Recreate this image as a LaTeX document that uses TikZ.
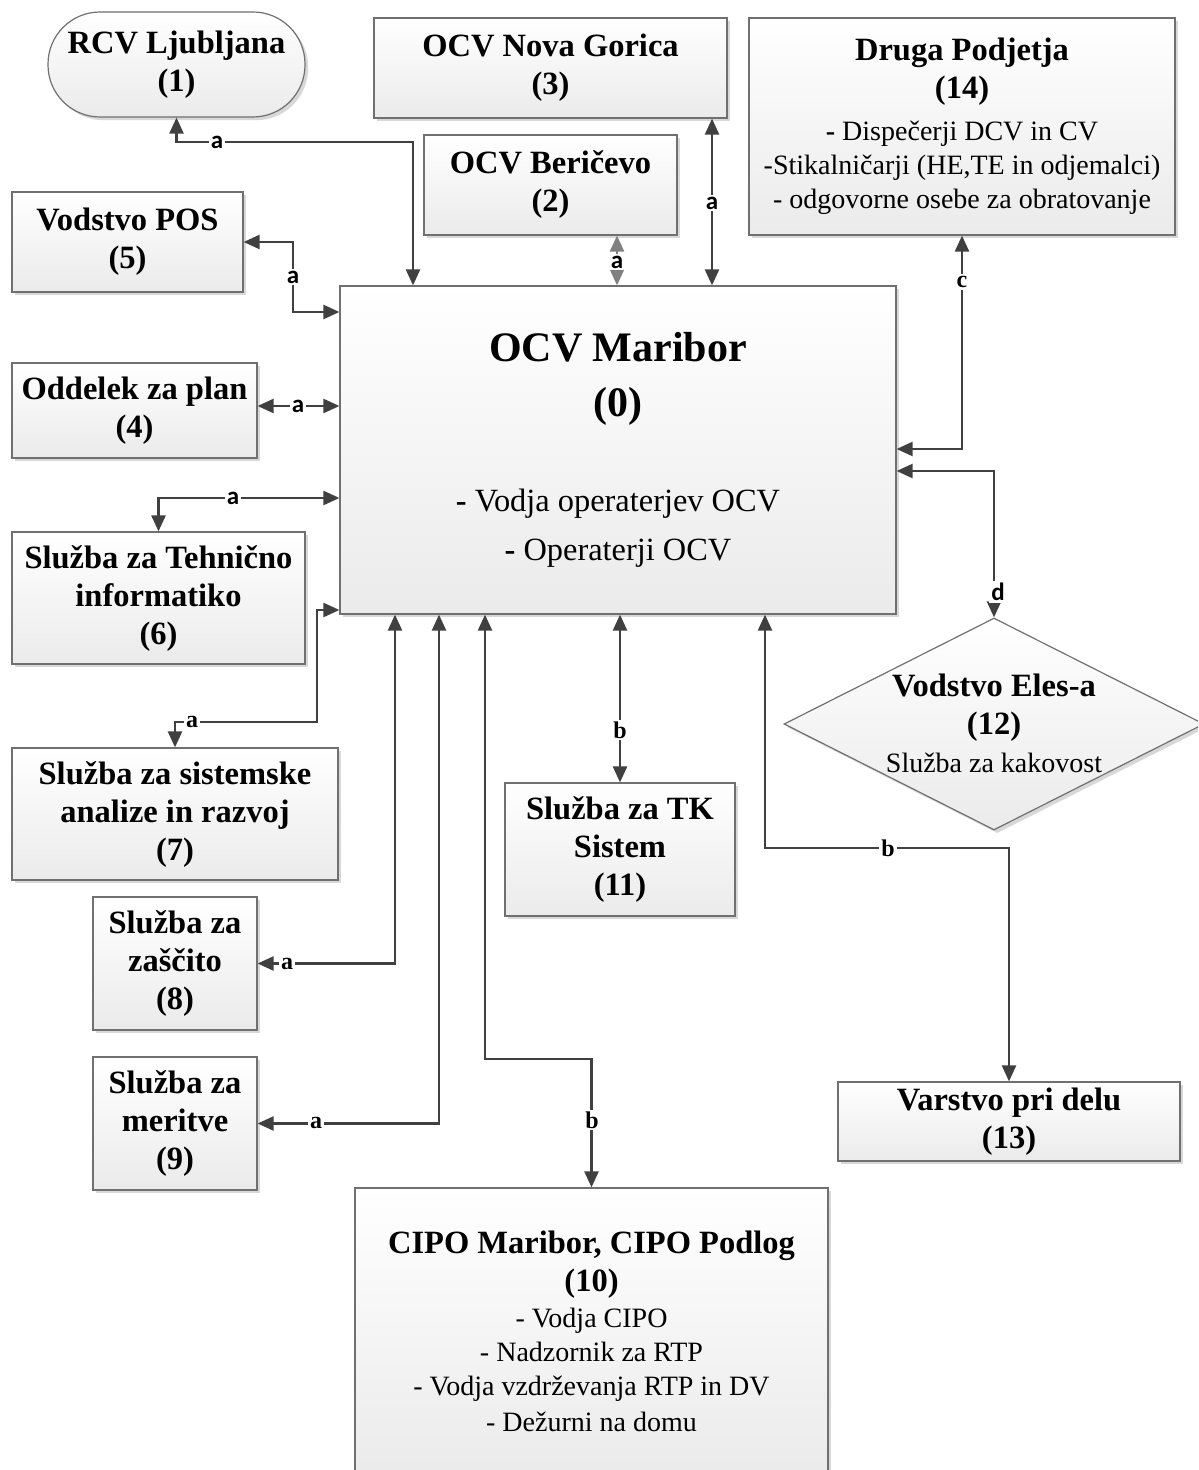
\documentclass[tikz,border=0pt]{standalone}
\usepackage{fontspec}
\setmainfont{Liberation Serif}
\newfontfamily\lblsans{Carlito}
\usetikzlibrary{arrows.meta,shadows,shapes.geometric}
\definecolor{linec}{HTML}{404040}
\definecolor{bordc}{HTML}{707070}
\newcommand{\ttlfont}{\fontsize{16.25}{17}\selectfont\bfseries}

\begin{document}
\begin{tikzpicture}[x=0.5pt,y=-0.5pt,>={Triangle[length=8pt,width=7pt]}]
% Stili
\tikzset{box/.style={rectangle,draw=bordc,line width=0.6pt,top color=white,bottom color=gray!16,
    drop shadow={shadow xshift=1.6pt,shadow yshift=-1.6pt,fill=gray!60,opacity=0.5},
    align=center,inner sep=0pt,font=\fontsize{14}{17}\selectfont},
  titlebox/.style={box,font=\fontsize{16.25}{19}\selectfont\bfseries},
  con/.style={draw=linec,line width=1.2pt,<->},
  lbl/.style={fill=white,inner sep=1pt,font=\lblsans\bfseries\fontsize{12.5}{12}\selectfont},
  lbls/.style={fill=white,inner sep=1pt,font=\bfseries\fontsize{12}{12}\selectfont}}

\useasboundingbox (0,0) rectangle (1198,1470);
\clip (0,0) rectangle (1198,1470);

% Vozlisca
  \node[titlebox,rounded corners=26pt,minimum width=128.5pt,minimum height=52.5pt] (n1) at (176.5,64.5) {RCV Ljubljana\\(1)};
  \node[titlebox,minimum width=176.5pt,minimum height=50pt] (n3) at (550.5,68) {OCV Nova Gorica\\(3)};
  \node[titlebox,minimum width=126.5pt,minimum height=50pt] (n2) at (550.5,185) {OCV Beričevo\\(2)};
  \node[box,minimum width=213pt,minimum height=108.5pt] (n14) at (962,126.5) {{\ttlfont Druga Podjetja}\\[2pt]{\ttlfont (14)}\\[4pt]\textbf{-} Dispečerji DCV in CV\\-Stikalničarji (HE,TE in odjemalci)\\- odgovorne osebe za obratovanje};
  \node[titlebox,minimum width=115.5pt,minimum height=50pt] (n5) at (127.5,242) {Vodstvo POS\\(5)};
  \node[titlebox,minimum width=122.5pt,minimum height=47.5pt] (n4) at (134.5,410.5) {Oddelek za plan\\(4)};
  \node[titlebox,minimum width=146.5pt,minimum height=66pt] (n6) at (158.5,598) {Služba za Tehnično\\informatiko\\(6)};
  \node[titlebox,minimum width=163pt,minimum height=66pt] (n7) at (175,814) {Služba za sistemske\\analize in razvoj\\(7)};
  \node[titlebox,minimum width=82pt,minimum height=66.5pt] (n8) at (175,963.5) {Služba za\\zaščito\\(8)};
  \node[titlebox,minimum width=82pt,minimum height=66.5pt] (n9) at (175,1123.5) {Služba za\\meritve\\(9)};
  \node[box,minimum width=278pt,minimum height=164pt,font=\fontsize{16.2}{24.5}\selectfont] (n0) at (618,450) {{\fontsize{21}{24.5}\selectfont\bfseries OCV Maribor}\\[3pt]{\fontsize{21}{24.5}\selectfont\bfseries (0)}\\[23pt]\textbf{-} Vodja operaterjev OCV\\\textbf{-} Operaterji OCV};
  \node[titlebox,minimum width=115pt,minimum height=66.5pt] (n11) at (620,849.5) {Služba za TK\\Sistem\\(11)};
  \node[box,diamond,minimum width=210pt,minimum height=106pt] (n12) at (994,724) {};
  \node[align=center,font=\fontsize{16.25}{19}\selectfont\bfseries] (t12) at (994,723) {Vodstvo Eles-a\\(12)\\{\mdseries\fontsize{14}{19}\selectfont Služba za kakovost}};
  \node[titlebox,minimum width=171pt,minimum height=39.5pt] (n13) at (1009,1121.5) {Varstvo pri delu\\(13)};
  \node[box,minimum width=236.5pt,minimum height=143pt] (n10) at (591.5,1331) {{\ttlfont CIPO Maribor, CIPO Podlog}\\[2pt]{\ttlfont (10)}\\[1pt]- Vodja CIPO\\- Nadzornik za RTP\\- Vodja vzdrževanja RTP in DV\\[1pt]- Dežurni na domu};

% Povezave
\draw[con] (n1.south) |- (413,142) -- (n0.north -| 413,0);
\draw[con] (n3.south -| 712,0) -- (n0.north -| 712,0);
\draw[con,densely dashed,draw=gray] (n2.south -| 617,0) -- (n0.north -| 617,0);
\draw[con] (n5.east) -| (293,312) -- (n0.west |- 0,312);
\draw[con] (n4.east |- 0,406) -- (n0.west |- 0,406);
\draw[con] (n6.north) |- (n0.west |- 0,498);
\draw[con] (n7.north) |- (317,722) |- (n0.west |- 0,610);
\draw[con] (n8.east) -| (n0.south -| 395,0);
\draw[con] (n9.east) -| (n0.south -| 439,0);
\draw[con] (n10.north) |- (485,1059) -- (n0.south -| 485,0);
\draw[con] (n11.north) -- (n0.south -| n11.north);
\draw[con] (n13.north) |- (765,848) -- (n0.south -| 765,0);
\draw[con] (n14.south) |- (n0.east |- 0,449);
\draw[con] (n12.north) |- (n0.east |- 0,471);

% Oznake
\node[lbl] (la1) at (217,142) {a};
\node[lbl] (la3) at (712,203) {a};
\node[lbl] (la2) at (617,262) {a};
\node[lbl] (la5) at (293,277) {a};
\node[lbl] (la4) at (298,406) {a};
\node[lbl] (la6) at (233,498) {a};
\node[lbls] (la7) at (192,722) {a};
\node[lbls] (la8) at (287,964) {a};
\node[lbls] (la9) at (316,1123) {a};
\node[lbls] (lb10) at (592,1120) {b};
\node[lbls] (lb11) at (620,730) {b};
\node[lbls] (lb13) at (888,848) {b};
\node[lbls] (lc14) at (962,282) {c};
\node[lbl] (ld12) at (998,592) {d};

\end{tikzpicture}
\end{document}
